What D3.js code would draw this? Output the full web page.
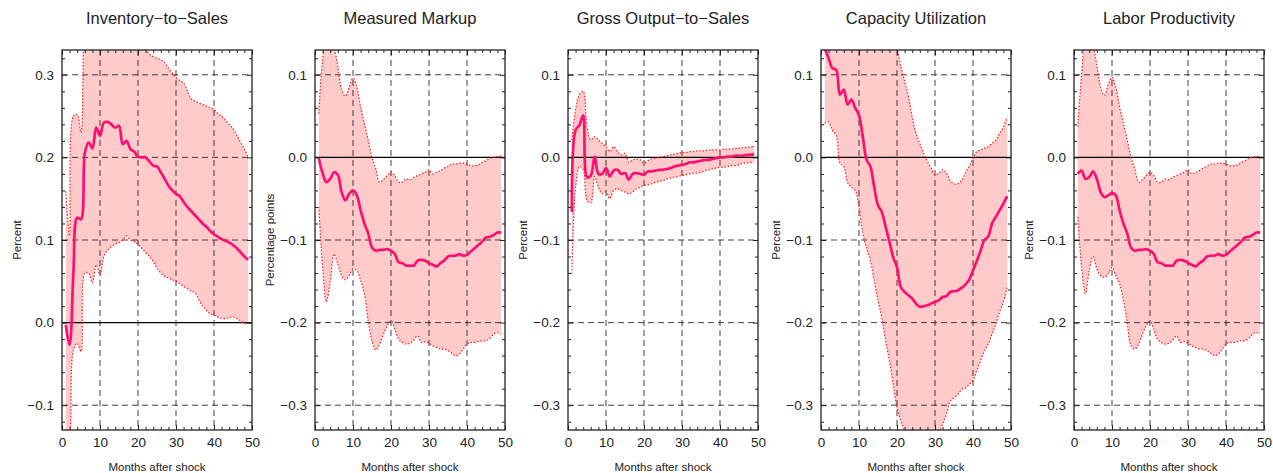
<!DOCTYPE html>
<html>
<head>
<meta charset="utf-8">
<script src="https://cdn.jsdelivr.net/npm/d3@7"></script>
<style>
  html, body { margin: 0; padding: 0; background: #fff; }
  svg text { font-family: "Liberation Sans", Arial, sans-serif; fill: #222; }
</style>
</head>
<body>
<div id="chart"></div>
<script>
// months after shock
const months = [1, 2, 3, 4, 5, 6, 7, 8, 9, 10, 11, 12, 13, 14, 15, 16, 17, 18, 19, 20,
  21, 22, 23, 24, 25, 26, 27, 28, 29, 30, 31, 32, 33, 34, 35, 36, 37, 38, 39, 40,
  41, 42, 43, 44, 45, 46, 47, 48, 49];

const titles = ['Inventory\u2212to\u2212Sales', 'Measured Markup', 'Gross Output\u2212to\u2212Sales',
  'Capacity Utilization', 'Labor Productivity'];
const yLabels = ['Percent', 'Percentage points', 'Percent', 'Percent', 'Percent'];
const xTicks = [0, 10, 20, 30, 40, 50];
const yTicksFirst = [-0.1, 0.0, 0.1, 0.2, 0.3];
const yTicksOther = [-0.3, -0.2, -0.1, 0.0, 0.1];

// Inventory-to-Sales
const invMid = [-0.003, -0.027, 0.06, 0.127, 0.125, 0.205, 0.218, 0.211, 0.236, 0.226,
  0.242, 0.243, 0.24, 0.236, 0.238, 0.216, 0.22, 0.21, 0.207, 0.201,
  0.2, 0.2, 0.195, 0.19, 0.189, 0.182, 0.174, 0.166, 0.16, 0.156,
  0.153, 0.146, 0.14, 0.135, 0.13, 0.125, 0.12, 0.116, 0.111, 0.107,
  0.104, 0.101, 0.099, 0.097, 0.094, 0.09, 0.085, 0.08, 0.076];
const invHi = [0.159, 0.105, 0.25, 0.252, 0.23, 0.36, 0.38, 0.39, 0.4, 0.4,
  0.41, 0.41, 0.4, 0.4, 0.39, 0.38, 0.37, 0.36, 0.355, 0.35,
  0.34, 0.332, 0.325, 0.322, 0.32, 0.318, 0.315, 0.308, 0.302, 0.297,
  0.293, 0.29, 0.28, 0.271, 0.268, 0.266, 0.264, 0.262, 0.26, 0.258,
  0.253, 0.25, 0.245, 0.24, 0.235, 0.227, 0.218, 0.21, 0.2];
const invLo = [-0.17, -0.15, -0.033, -0.025, -0.035, 0.06, 0.06, 0.048, 0.07, 0.058,
  0.08, 0.088, 0.092, 0.095, 0.097, 0.1, 0.105, 0.1, 0.098, 0.095,
  0.09, 0.085, 0.08, 0.074, 0.066, 0.06, 0.056, 0.054, 0.052, 0.05,
  0.047, 0.044, 0.041, 0.038, 0.036, 0.028, 0.02, 0.015, 0.011, 0.009,
  0.007, 0.005, 0.005, 0.006, 0.007, 0.005, 0.002, -0.001, -0.002];

// Measured Markup
const mkpMid = [-0.001, -0.019, -0.03, -0.026, -0.018, -0.021, -0.042, -0.052, -0.044, -0.04,
  -0.046, -0.064, -0.08, -0.092, -0.109, -0.113, -0.112, -0.112, -0.111, -0.113,
  -0.117, -0.127, -0.128, -0.131, -0.131, -0.131, -0.125, -0.124, -0.125, -0.128,
  -0.13, -0.132, -0.128, -0.125, -0.12, -0.119, -0.119, -0.117, -0.119, -0.118,
  -0.114, -0.11, -0.106, -0.102, -0.097, -0.096, -0.094, -0.091, -0.091];
const mkpHi = [0.053, 0.118, 0.145, 0.15, 0.135, 0.11, 0.082, 0.074, 0.085, 0.096,
  0.085, 0.061, 0.041, 0.021, 0.0, -0.014, -0.03, -0.027, -0.022, -0.018,
  -0.022, -0.03, -0.03, -0.026, -0.027, -0.024, -0.022, -0.02, -0.018, -0.015,
  -0.02, -0.018, -0.016, -0.013, -0.011, -0.008, -0.008, -0.007, -0.007, -0.008,
  -0.01, -0.01, -0.009, -0.006, -0.004, -0.001, 0.0, 0.001, 0.002];
const mkpLo = [-0.06, -0.133, -0.175, -0.15, -0.117, -0.129, -0.143, -0.148, -0.143, -0.135,
  -0.137, -0.149, -0.165, -0.198, -0.222, -0.233, -0.226, -0.214, -0.204, -0.198,
  -0.208, -0.22, -0.224, -0.226, -0.225, -0.221, -0.216, -0.224, -0.223, -0.225,
  -0.228, -0.23, -0.232, -0.232, -0.234, -0.237, -0.24, -0.238, -0.232, -0.226,
  -0.224, -0.224, -0.223, -0.222, -0.222, -0.219, -0.214, -0.212, -0.214];

// Gross Output-to-Sales
const gosMid = [-0.066, 0.033, 0.039, 0.051, -0.024, -0.022, 0.001, -0.02, -0.02, -0.013,
  -0.023, -0.016, -0.015, -0.02, -0.019, -0.027, -0.02, -0.019, -0.02, -0.021,
  -0.017, -0.017, -0.016, -0.015, -0.015, -0.014, -0.013, -0.011, -0.01, -0.009,
  -0.008, -0.006, -0.006, -0.005, -0.004, -0.003, -0.003, -0.002, -0.001, 0.0,
  0.0, 0.001, 0.001, 0.002, 0.002, 0.002, 0.003, 0.003, 0.004];
const gosHi = [0.021, 0.058, 0.076, 0.08, 0.037, 0.021, 0.025, 0.021, 0.017, 0.013,
  0.007, 0.013, 0.007, 0.003, 0.005, -0.006, -0.003, -0.002, -0.003, -0.007,
  -0.004, -0.002, -0.001, 0.0, 0.001, 0.002, 0.003, 0.004, 0.005, 0.006,
  0.006, 0.007, 0.007, 0.008, 0.008, 0.008, 0.009, 0.009, 0.009, 0.009,
  0.01, 0.01, 0.01, 0.011, 0.011, 0.012, 0.012, 0.013, 0.013];
const gosLo = [-0.141, -0.036, -0.011, -0.015, -0.052, -0.055, -0.023, -0.036, -0.044, -0.042,
  -0.05, -0.04, -0.038, -0.04, -0.042, -0.044, -0.042, -0.038, -0.036, -0.034,
  -0.033, -0.032, -0.03, -0.029, -0.028, -0.026, -0.025, -0.024, -0.023, -0.022,
  -0.021, -0.02, -0.019, -0.019, -0.018, -0.016, -0.015, -0.014, -0.013, -0.012,
  -0.012, -0.011, -0.01, -0.01, -0.009, -0.007, -0.007, -0.006, -0.006];

// Capacity Utilization
const capMid = [0.132, 0.12, 0.108, 0.106, 0.076, 0.082, 0.064, 0.07, 0.06, 0.051,
  0.025, -0.003, -0.011, -0.036, -0.058, -0.066, -0.084, -0.102, -0.121, -0.133,
  -0.157, -0.163, -0.167, -0.171, -0.177, -0.181, -0.18, -0.179, -0.177, -0.175,
  -0.173, -0.169, -0.168, -0.163, -0.162, -0.161, -0.158, -0.154, -0.148, -0.137,
  -0.125, -0.113, -0.1, -0.096, -0.08, -0.072, -0.064, -0.056, -0.047];
const capHi = [0.25, 0.26, 0.27, 0.27, 0.26, 0.26, 0.25, 0.25, 0.24, 0.23,
  0.22, 0.21, 0.2, 0.19, 0.18, 0.17, 0.16, 0.15, 0.142, 0.132,
  0.11, 0.092, 0.074, 0.049, 0.029, 0.017, 0.005, -0.005, -0.013, -0.021,
  -0.019, -0.015, -0.019, -0.028, -0.032, -0.032, -0.028, -0.019, -0.011, -0.001,
  0.007, 0.009, 0.011, 0.013, 0.017, 0.021, 0.029, 0.037, 0.049];
const capLo = [0.041, 0.043, 0.033, 0.027, -0.007, -0.011, -0.03, -0.036, -0.04, -0.06,
  -0.092, -0.11, -0.125, -0.149, -0.173, -0.194, -0.222, -0.246, -0.275, -0.303,
  -0.319, -0.331, -0.345, -0.355, -0.36, -0.362, -0.36, -0.355, -0.348, -0.34,
  -0.333, -0.323, -0.311, -0.295, -0.291, -0.287, -0.281, -0.279, -0.275, -0.27,
  -0.258, -0.246, -0.234, -0.226, -0.214, -0.202, -0.187, -0.175, -0.157];

// Labor Productivity
const lprMid = [-0.02, -0.016, -0.026, -0.024, -0.017, -0.026, -0.042, -0.048, -0.046, -0.043,
  -0.046, -0.064, -0.08, -0.092, -0.109, -0.113, -0.112, -0.112, -0.111, -0.113,
  -0.117, -0.127, -0.128, -0.131, -0.131, -0.131, -0.125, -0.124, -0.125, -0.128,
  -0.13, -0.132, -0.128, -0.125, -0.12, -0.119, -0.119, -0.117, -0.119, -0.118,
  -0.114, -0.11, -0.106, -0.102, -0.097, -0.096, -0.094, -0.091, -0.091];
const lprHi = [0.037, 0.1, 0.14, 0.145, 0.135, 0.112, 0.085, 0.075, 0.088, 0.097,
  0.085, 0.061, 0.041, 0.021, 0.0, -0.014, -0.03, -0.027, -0.022, -0.018,
  -0.022, -0.03, -0.03, -0.026, -0.027, -0.024, -0.022, -0.02, -0.018, -0.015,
  -0.02, -0.018, -0.016, -0.013, -0.011, -0.008, -0.008, -0.007, -0.007, -0.008,
  -0.01, -0.01, -0.009, -0.006, -0.004, -0.001, 0.0, 0.001, 0.002];
const lprLo = [-0.072, -0.133, -0.165, -0.137, -0.12, -0.135, -0.143, -0.145, -0.141, -0.133,
  -0.143, -0.153, -0.173, -0.2, -0.228, -0.232, -0.226, -0.214, -0.204, -0.198,
  -0.208, -0.22, -0.224, -0.226, -0.225, -0.221, -0.216, -0.224, -0.223, -0.225,
  -0.228, -0.23, -0.232, -0.232, -0.234, -0.237, -0.24, -0.238, -0.232, -0.226,
  -0.224, -0.224, -0.223, -0.222, -0.222, -0.219, -0.214, -0.212, -0.214];

const COLORS = {
  band: '#ffcaca',
  bandEdge: '#ff1a1a',
  line: '#ff0f72',
  grid: '#111'
};

const W = 1273, H = 473;
const plotTop = 50, plotH = 380, plotW = 190;
const firstLeft = 62, step = 253;

const panels = [
  { mid: invMid, hi: invHi, lo: invLo, domain: [-0.13, 0.33], yTicks: yTicksFirst },
  { mid: mkpMid, hi: mkpHi, lo: mkpLo, domain: [-0.33, 0.13], yTicks: yTicksOther },
  { mid: gosMid, hi: gosHi, lo: gosLo, domain: [-0.33, 0.13], yTicks: yTicksOther },
  { mid: capMid, hi: capHi, lo: capLo, domain: [-0.33, 0.13], yTicks: yTicksOther },
  { mid: lprMid, hi: lprHi, lo: lprLo, domain: [-0.33, 0.13], yTicks: yTicksOther }
];

const svg = d3.select('#chart').append('svg')
  .attr('width', W)
  .attr('height', H);

const fmtY = d3.format('.1f');

panels.forEach((p, i) => {
  const left = firstLeft + i * step;
  const g = svg.append('g').attr('transform', `translate(${left},${plotTop})`);

  const x = d3.scaleLinear().domain([0, 50]).range([0, plotW]);
  const y = d3.scaleLinear().domain(p.domain).range([plotH, 0]);

  const clipId = 'clip' + i;
  g.append('clipPath').attr('id', clipId)
    .append('rect').attr('width', plotW).attr('height', plotH);

  const rows = months.map((m, k) => ({ m: m, mid: p.mid[k], hi: p.hi[k], lo: p.lo[k] }));
  const curve = d3.curveCatmullRom.alpha(0.5);

  const plot = g.append('g').attr('clip-path', `url(#${clipId})`);

  // confidence band
  plot.append('path')
    .datum(rows)
    .attr('fill', COLORS.band)
    .attr('d', d3.area().curve(curve).x(d => x(d.m)).y0(d => y(d.lo)).y1(d => y(d.hi)));

  // gridlines (dashed), zero line solid
  const yMinor = d3.range(Math.ceil(p.domain[0] * 50), Math.floor(p.domain[1] * 50) + 1).map(v => v / 50);
  plot.selectAll('.vgrid')
    .data(xTicks.filter(t => t > 0 && t < 50))
    .enter().append('line')
    .attr('x1', d => x(d)).attr('x2', d => x(d))
    .attr('y1', 0).attr('y2', plotH)
    .attr('stroke', COLORS.grid).attr('stroke-opacity', 0.8)
    .attr('stroke-dasharray', '6,4');
  plot.selectAll('.hgrid')
    .data(p.yTicks.filter(t => t !== 0))
    .enter().append('line')
    .attr('x1', 0).attr('x2', plotW)
    .attr('y1', d => y(d)).attr('y2', d => y(d))
    .attr('stroke', COLORS.grid).attr('stroke-opacity', 0.8)
    .attr('stroke-dasharray', '6,4');
  plot.append('line')
    .attr('x1', 0).attr('x2', plotW)
    .attr('y1', y(0)).attr('y2', y(0))
    .attr('stroke', '#000').attr('stroke-width', 1.2);

  // band edges (dotted)
  ['hi', 'lo'].forEach(key => {
    plot.append('path')
      .datum(rows)
      .attr('fill', 'none')
      .attr('stroke', COLORS.bandEdge)
      .attr('stroke-width', 1.2)
      .attr('stroke-dasharray', '1.5,1.8')
      .attr('d', d3.line().curve(curve).x(d => x(d.m)).y(d => y(d[key])));
  });

  // impulse response
  plot.append('path')
    .datum(rows)
    .attr('fill', 'none')
    .attr('stroke', COLORS.line)
    .attr('stroke-width', 2.7)
    .attr('stroke-linejoin', 'round')
    .attr('d', d3.line().curve(curve).x(d => x(d.m)).y(d => y(d.mid)));

  // axes with inward ticks
  const xMinor = d3.range(0, 51, 2).filter(t => t % 10 !== 0);
  const yMinorOnly = yMinor.filter(v => Math.abs(Math.round(v * 10) - v * 10) > 1e-6);

  const addAxis = (axisGen, transform, labels) => {
    const a = g.append('g').attr('transform', transform).call(axisGen);
    a.select('.domain').remove();
    a.selectAll('line').attr('stroke', '#222');
    a.selectAll('text')
      .style('font-family', '"Liberation Sans", Arial, sans-serif')
      .style('font-size', '13.5px')
      .attr('fill', '#222');
    if (!labels) a.selectAll('text').remove();
    return a;
  };

  addAxis(d3.axisBottom(x).tickValues(xTicks).tickSize(-5).tickPadding(7).tickFormat(d3.format('d')),
    `translate(0,${plotH})`, true);
  addAxis(d3.axisBottom(x).tickValues(xMinor).tickSize(-3).tickFormat(''), `translate(0,${plotH})`, false);
  addAxis(d3.axisTop(x).tickValues(xTicks).tickSize(-5).tickFormat(''), 'translate(0,0)', false);
  addAxis(d3.axisTop(x).tickValues(xMinor).tickSize(-3).tickFormat(''), 'translate(0,0)', false);

  addAxis(d3.axisLeft(y).tickValues(p.yTicks).tickSize(-5).tickPadding(8).tickFormat(d => fmtY(d)),
    'translate(0,0)', true);
  addAxis(d3.axisLeft(y).tickValues(yMinorOnly).tickSize(-3).tickFormat(''), 'translate(0,0)', false);
  addAxis(d3.axisRight(y).tickValues(p.yTicks).tickSize(-5).tickFormat(''), `translate(${plotW},0)`, false);
  addAxis(d3.axisRight(y).tickValues(yMinorOnly).tickSize(-3).tickFormat(''), `translate(${plotW},0)`, false);

  // frame
  g.append('rect')
    .attr('width', plotW).attr('height', plotH)
    .attr('fill', 'none')
    .attr('stroke', '#222')
    .attr('stroke-width', 1.3);

  // titles and labels
  g.append('text')
    .attr('x', plotW / 2).attr('y', 23.5 - plotTop)
    .attr('text-anchor', 'middle')
    .style('font-size', '16.5px')
    .text(titles[i]);

  g.append('text')
    .attr('x', plotW / 2).attr('y', 471 - plotTop)
    .attr('text-anchor', 'middle')
    .style('font-size', '11.5px')
    .text('Months after shock');

  g.append('text')
    .attr('transform', `translate(-41,${plotH / 2}) rotate(-90)`)
    .attr('text-anchor', 'middle')
    .style('font-size', '11.5px')
    .text(yLabels[i]);
});
</script>
</body>
</html>
